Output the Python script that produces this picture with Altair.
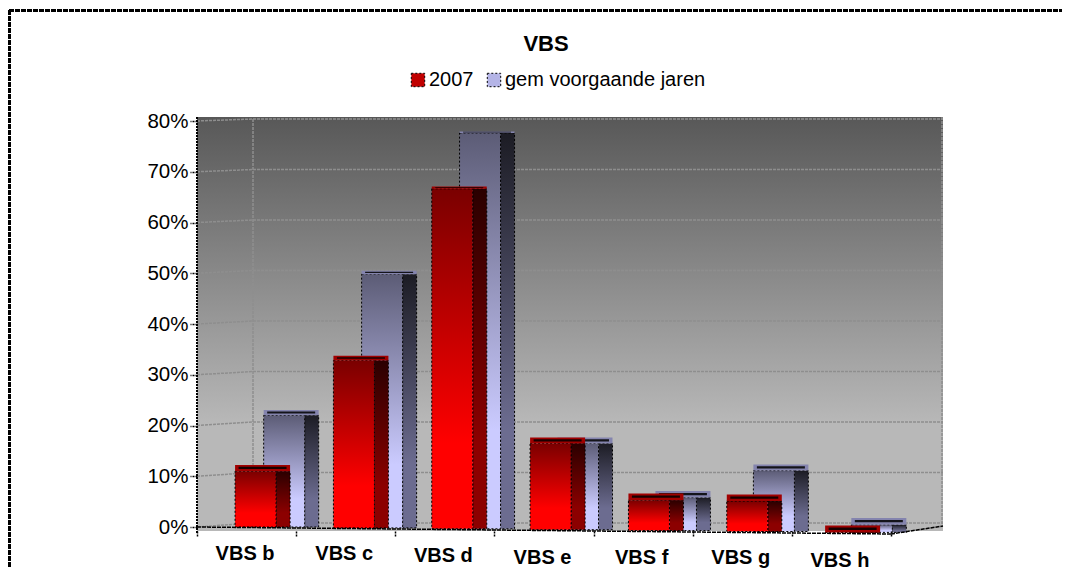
import altair as alt

categories = ["VBS b", "VBS c", "VBS d", "VBS e", "VBS f", "VBS g", "VBS h"]
values_2007 = [0.11, 0.33, 0.67, 0.17, 0.06, 0.06, 0.0]
values_prev = [0.22, 0.50, 0.78, 0.17, 0.065, 0.12, 0.015]
series_names = ["2007", "gem voorgaande jaren"]
ticks = [0, 0.1, 0.2, 0.3, 0.4, 0.5, 0.6, 0.7, 0.8]

FONT = "Liberation Sans"
red_rows = [{"cat": c, "v": v} for c, v in zip(categories, values_2007)]
blue_rows = [{"cat": c, "v": v} for c, v in zip(categories, values_prev)]
tick_rows = [{"t": t} for t in ticks]
cat_js = "[" + ",".join(f"'{c}'" for c in categories) + "]"

xscale = alt.Scale(domain=categories, range=[0, 694], paddingInner=0, paddingOuter=0)
yscale = alt.Scale(domain=[0, 0.8], range=[410, 4], nice=False)


def grad(top, bottom, mid=0.75):
    return alt.Gradient(gradient="linear", x1=0, x2=0, y1=0, y2=1,
                        stops=[alt.GradientStop(offset=0, color=top),
                               alt.GradientStop(offset=mid, color=bottom),
                               alt.GradientStop(offset=1, color=bottom)])


def x_enc():
    return alt.X("cat:N", scale=xscale, axis=None, sort=categories)


def y_enc():
    return alt.Y("v:Q", scale=yscale, axis=None)


def faces(rows, shift, front, side, topc, base):
    d = alt.Data(values=rows)
    dash = dict(stroke="black", strokeDash=[2, 2], strokeWidth=1)
    y_off = alt.expr("0.9*datum.i")
    y2_off = alt.expr(f"{base}+0.9*datum.i")
    thick = "(7-7*datum.v)"

    def sh(extra):
        return alt.expr(f"({shift})+{extra}")

    base_chart = alt.Chart(d).transform_calculate(i=f"indexof({cat_js},datum.cat)")
    side_l = base_chart.mark_bar(
        width=14, color=side, xOffset=sh(27.5), yOffset=y_off, y2Offset=y2_off, **dash
    ).encode(x=x_enc(), y=y_enc())
    front_l = base_chart.mark_bar(
        width=41, color=front, xOffset=sh(0), yOffset=y_off, y2Offset=y2_off, **dash
    ).encode(x=x_enc(), y=y_enc())
    top_l = base_chart.mark_bar(
        width=55, color=topc, xOffset=sh(7), yOffset=alt.expr(f"0.9*datum.i-{thick}"), y2Offset=y_off
    ).encode(x=x_enc(), y=y_enc(), y2=alt.Y2("v:Q"))
    top_dash = base_chart.mark_bar(
        width=48, color="black", xOffset=sh(7), yOffset=alt.expr(f"0.9*datum.i-{thick}*0.7"),
        y2Offset=alt.expr(f"0.9*datum.i-{thick}*0.35"), opacity=0.85
    ).encode(x=x_enc(), y=y_enc(), y2=alt.Y2("v:Q"))
    return [side_l, front_l, top_l, top_dash]


# back wall
wall = alt.Chart(alt.Data(values=[{"a": 1}])).mark_rect(
    color=grad("#585858", "#b8b8b8", 0.74)
).encode(x=alt.value(0), x2=alt.value(746), y=alt.value(0), y2=alt.value(414))

GRID = "#8e8e8e"
grid_kw = dict(color=GRID, strokeDash=[3, 1], strokeWidth=1.5)
back_off = "-(2+(0.8-datum.t)*2.5)"
grid_back = alt.Chart(alt.Data(values=tick_rows)).mark_rule(
    yOffset=alt.expr(back_off), y2Offset=alt.expr(back_off), **grid_kw
).encode(x=alt.value(56), x2=alt.value(746), y=alt.Y("t:Q", scale=yscale, axis=None), y2=alt.Y2("t:Q"))
grid_left = alt.Chart(alt.Data(values=tick_rows)).mark_rule(
    y2Offset=alt.expr(back_off), **grid_kw
).encode(x=alt.value(0), x2=alt.value(56), y=alt.Y("t:Q", scale=yscale, axis=None), y2=alt.Y2("t:Q"))
grid_v = alt.Chart(alt.Data(values=[{"a": 1}])).mark_rule(**grid_kw).encode(
    x=alt.value(56), y=alt.value(2), y2=alt.value(406))
grid_r = alt.Chart(alt.Data(values=[{"a": 1}])).mark_rule(**grid_kw).encode(
    x=alt.value(745), y=alt.value(0), y2=alt.value(408))

floor_kw = dict(color="black", strokeDash=[4, 1], strokeWidth=1.5)
floor_front = alt.Chart(alt.Data(values=[{"t": 0}])).mark_rule(y2Offset=7, **floor_kw).encode(
    x=alt.value(0), x2=alt.value(694), y=alt.Y("t:Q", scale=yscale, axis=None), y2=alt.Y2("t:Q"))
floor_right = alt.Chart(alt.Data(values=[{"t": 0}])).mark_rule(yOffset=7, y2Offset=-1, **floor_kw).encode(
    x=alt.value(694), x2=alt.value(746), y=alt.Y("t:Q", scale=yscale, axis=None), y2=alt.Y2("t:Q"))

blue = faces(blue_rows, "37.6-1.2*datum.i", grad("#5c5c76", "#cbcbff"), grad("#1c1c24", "#6c6c90"), "#8484ae", 0)
red = faces(red_rows, "9-0.8*datum.i", grad("#7a0000", "#ff0000"), grad("#2a0000", "#8c0000"), "#a00000", 2)

# axes carrier
axes = alt.Chart(alt.Data(values=red_rows)).mark_bar(opacity=0).encode(
    x=alt.X("cat:N", scale=xscale, sort=categories, title=None, axis=alt.Axis(
        tickBand="extent", labelAngle=0, domain=False, grid=False, zindex=1,
        labelFont=FONT, labelFontSize=20, labelFontWeight="bold", labelColor="black",
        labelOffset=-2,
        tickColor="black", tickDash=[2, 1], tickSize=6, tickWidth=1.5,
        labelPadding=alt.expr(
            "datum.label=='VBS d'?8:indexof(['VBS e','VBS f','VBS g'],datum.label)>=0?10:datum.label=='VBS h'?13:6"
        ),
    )),
    y=alt.Y("v:Q", scale=yscale, title=None, axis=alt.Axis(
        values=ticks, format=".0%", domain=False, grid=False, zindex=1,
        labelFont=FONT, labelFontSize=20.5, labelColor="black", labelPadding=2,
        tickColor="black", tickDash=[2, 1], tickSize=7, tickWidth=1.5,
    )),
)

left_line = alt.Chart(alt.Data(values=[{"a": 1}])).mark_rule(color="black", strokeDash=[2, 1], strokeWidth=2).encode(
    x=alt.value(0), y=alt.value(0), y2=alt.value(416))

frame_kw = dict(color="black", strokeWidth=3, strokeDash=[5, 1])
frame_left = alt.Chart(alt.Data(values=[{"a": 1}])).mark_rule(**frame_kw).encode(
    x=alt.value(-187.5), y=alt.value(-107), y2=alt.value(450))
frame_top = alt.Chart(alt.Data(values=[{"a": 1}])).mark_rule(**frame_kw).encode(
    x=alt.value(-188), x2=alt.value(865), y=alt.value(-106.5))

legend_layer = alt.Chart(alt.Data(values=[{"s": s} for s in series_names])).mark_square(size=0, opacity=0).encode(
    x=alt.value(0), y=alt.value(0),
    color=alt.Color("s:N", scale=alt.Scale(domain=series_names, range=["#c00000", "#b4b4e6"]), legend=alt.Legend(
        orient="none", legendX=211, legendY=-47, direction="horizontal", title=None,
        symbolType="square", symbolSize=180, symbolOpacity=1, symbolStrokeColor="black",
        symbolDash=[2, 2], symbolStrokeWidth=1, labelFont=FONT, labelFontSize=20, labelColor="black",
        labelOffset=1, columnPadding=10, symbolOffset=0, labelLimit=400,
    )),
)

chart = alt.layer(
    wall, grid_left, grid_back, grid_v, grid_r, axes, *blue, *red, floor_front, floor_right, left_line,
    frame_left, frame_top, legend_layer,
).resolve_scale(color="independent").resolve_axis(x="independent", y="independent").properties(
    width=746, height=414,
    padding={"left": 189, "top": 109, "right": 119, "bottom": 43},
    autosize=alt.AutoSizeParams(type="none"),
    title=alt.TitleParams("VBS", font=FONT, fontSize=22, fontWeight="bold", color="black", anchor="middle",
                          dx=-24, offset=-47),
).configure_view(stroke=None)

chart.save("out.html", embed_options={"renderer": "svg", "actions": False})
